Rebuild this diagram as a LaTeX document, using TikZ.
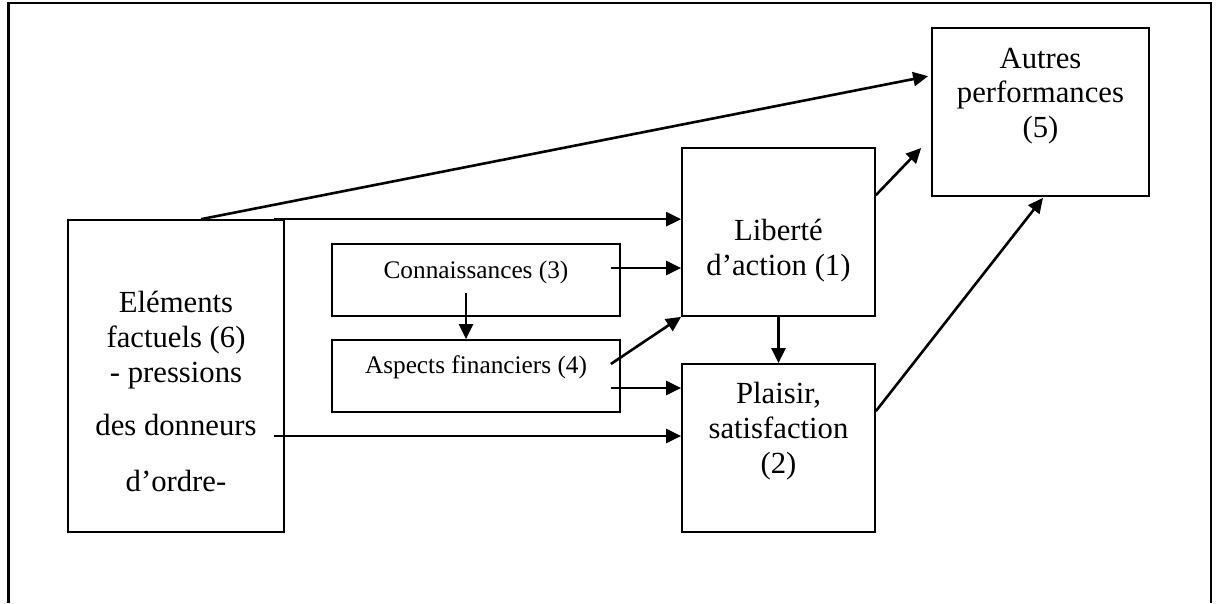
\documentclass[tikz,border=0pt]{standalone}
\usepackage{fontspec}
\setmainfont{Liberation Serif}
\usetikzlibrary{arrows.meta,calc}
\begin{document}
\begin{tikzpicture}[x=1pt,y=-1pt,
  boxe/.style={draw,line width=1.7pt,inner sep=0pt,rectangle},
  big/.style={anchor=base,inner sep=0pt,font=\fontsize{30.7}{34.5}\selectfont},
  small/.style={anchor=base,inner sep=0pt,font=\fontsize{25.3}{30}\selectfont},
  arr/.style={line width=2.6pt,-{Triangle[length=15pt,width=14pt]}}]
\useasboundingbox (0,0) rectangle (1219,603);
% frame (open at bottom)
\draw[line width=2.2pt] (8.5,603) -- (8.5,2.7) -- (1211,2.7) -- (1211,603);
% boxes
\node[boxe,minimum width=216pt,minimum height=312pt] (elem) at (176,376) {};
\node[boxe,minimum width=288pt,minimum height=72pt] (conn) at (476,280) {};
\node[boxe,minimum width=288pt,minimum height=72pt] (asp) at (476,376) {};
\node[boxe,minimum width=193pt,minimum height=168pt] (lib) at (778.5,232) {};
\node[boxe,minimum width=193pt,minimum height=168pt] (plai) at (778.5,448) {};
\node[boxe,minimum width=217pt,minimum height=168pt] (aut) at (1040.5,112) {};
% texts
\node[big] (t1) at (1040.5,68) {Autres};
\node[big] (t2) at (1040.5,102) {performances};
\node[big] (t3) at (1040.5,137) {(5)};
\node[big] (t4) at (778.5,240) {Liberté};
\node[big] (t5) at (778.5,275) {d’action (1)};
\node[big] (t6) at (778.5,403) {Plaisir,};
\node[big] (t7) at (778.5,438) {satisfaction};
\node[big] (t8) at (778.5,473) {(2)};
\node[big] (t9) at (176,312) {Eléments};
\node[big] (t10) at (176,347) {factuels (6)};
\node[big] (t11) at (176,382) {- pressions};
\node[big] (t12) at (176,435) {des donneurs};
\node[big] (t13) at (176,491) {d’ordre-};
\node[small] (t14) at (476,278) {Connaissances (3)};
\node[small] (t15) at (476,373) {Aspects financiers (4)};
% connector end points
\coordinate (e1) at ($(elem.north west)+(134,0)$);
\coordinate (a1) at ($(aut.north west)+(-3,49)$);
\coordinate (e2) at ($(elem.north east)+(-11,0)$);
\coordinate (c1) at ($(conn.east)+(-10,-12)$);
\coordinate (c2) at ($(conn.south)+(-10,-24)$);
\coordinate (s1) at ($(asp.east)+(-10,-12)$);
\coordinate (s2) at ($(asp.east)+(-10,12)$);
\coordinate (e3) at ($(elem.east)+(-11,60)$);
\coordinate (l1) at ($(lib.north east)+(0,48)$);
\coordinate (a2) at ($(aut.west)+(-10,36)$);
\coordinate (p1) at ($(plai.north east)+(0,48)$);
\coordinate (a3) at ($(aut.south)+(2.5,1)$);
% connectors
\draw[arr] (e1) -- (a1);
\draw[arr] (e2) -- (lib.west |- e2);
\draw[arr] (c1) -- (lib.west |- c1);
\draw[arr] (c2) -- (asp.north -| c2);
\draw[arr] (s1) -- (lib.south west);
\draw[arr] (s2) -- (plai.west |- s2);
\draw[arr] (e3) -- (plai.west |- e3);
\draw[arr] (lib.south) -- (plai.north);
\draw[arr] (l1) -- (a2);
\draw[arr] (p1) -- (a3);
\end{tikzpicture}
\end{document}
